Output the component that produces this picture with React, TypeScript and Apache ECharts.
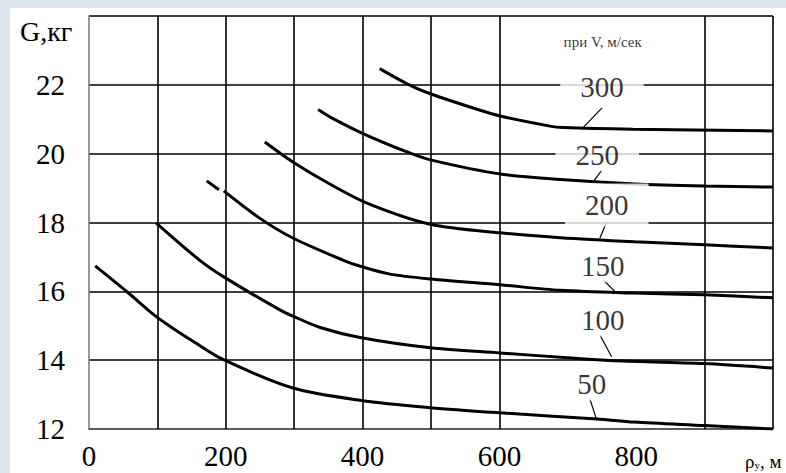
import React, { useEffect, useRef } from "react";
import * as echarts from "echarts";

// ---- data ----
const xLabelValues = [0, 200, 400, 600, 800];
const gridXValues = [100, 200, 300, 400, 500, 600, 900, 1000];
const speedNames = ["50", "100", "150", "200", "250", "300"];

const curve50 = [[9, 16.74], [56, 15.98], [96, 15.3], [123, 14.92], [152, 14.55], [196, 14.02], [298, 13.19], [398, 12.83], [499, 12.62], [601, 12.47], [743, 12.29], [797, 12.2], [900, 12.1], [1000, 12.0]];
const curve100 = [[98, 17.99], [162, 16.9], [197, 16.42], [279, 15.46], [298, 15.28], [338, 14.95], [398, 14.65], [499, 14.36], [601, 14.21], [700, 14.07], [762, 13.99], [900, 13.9], [1000, 13.77]];
const curve150Dash = [[172, 19.21], [190, 18.95]];
const curve150 = [[197, 18.92], [250, 18.12], [298, 17.55], [371, 16.91], [398, 16.72], [440, 16.5], [499, 16.36], [601, 16.19], [689, 16.03], [798, 15.95], [900, 15.9], [1000, 15.81]];
const curve200 = [[257, 20.34], [298, 19.76], [352, 19.12], [408, 18.55], [499, 17.95], [601, 17.7], [689, 17.56], [798, 17.44], [900, 17.35], [1000, 17.26]];
const curve250 = [[335, 21.28], [352, 21.07], [399, 20.6], [465, 20.05], [499, 19.82], [604, 19.4], [689, 19.25], [798, 19.12], [900, 19.06], [1000, 19.03]];
const curve300 = [[425, 22.47], [465, 22.03], [499, 21.74], [572, 21.26], [604, 21.08], [674, 20.8], [693, 20.76], [795, 20.71], [1000, 20.66]];

const labelPositions = [[735, 13.31], [751, 15.17], [751, 16.74], [757, 18.51], [743, 19.97], [750, 21.94]];
const leaderLines = [
  [[742, 12.28], [732, 12.89]],
  [[764, 14.1], [747, 14.73]],
  [[769, 15.99], [752, 16.33]],
  [[747, 17.55], [757, 18.03]],
  [[737, 19.18], [750, 19.53]],
  [[722, 20.75], [750, 21.33]],
];
const legendTitle = "при V, м/сек";
const legendTitlePos = [751, 23.25];
const yAxisName = "G,кг";

const SERIF = "'Liberation Serif', 'DejaVu Serif', serif";

export default function App() {
  const ref = useRef<HTMLDivElement>(null);
  useEffect(() => {
    if (!ref.current) return;
    const chart = echarts.init(ref.current, null, { renderer: "svg" });
    const curveStyle = { color: "#000", width: 3 };
    const curves = [curve50, curve100, curve150, curve200, curve250, curve300];
    const curveSeries: any[] = curves.map((c, i) => ({
      type: "line",
      name: "V" + speedNames[i],
      data: c,
      smooth: 0.3,
      showSymbol: false,
      symbol: "none",
      lineStyle: curveStyle,
      z: 3,
      silent: true,
    }));
    curveSeries.push({
      type: "line",
      name: "V150dash",
      data: curve150Dash,
      showSymbol: false,
      symbol: "none",
      lineStyle: curveStyle,
      z: 3,
      silent: true,
    });
    // vertical grid lines
    curveSeries[0].markLine = {
      silent: true,
      symbol: ["none", "none"],
      label: { show: false },
      lineStyle: { color: "#000", width: 1.6, type: "solid" },
      data: gridXValues.map((x) => ({ xAxis: x })),
      z: 1,
    };

    const labelData: any[] = labelPositions.map((p, i) => {
      const item: any = { value: p, name: speedNames[i] };
      if (speedNames[i] === "200") {
        item.label = { padding: [2, 20, 12, 20] };
      }
      return item;
    });
    labelData.push({
      value: legendTitlePos,
      name: legendTitle,
      label: { fontSize: 15, backgroundColor: "transparent", padding: 0 },
    });

    chart.setOption({
      animation: false,
      grid: { left: 89, right: 13, top: 16, bottom: 44, show: false },
      xAxis: {
        type: "value",
        min: 0,
        max: 1000,
        interval: 100,
        axisLine: { show: true, onZero: false, lineStyle: { color: "#666", width: 1.5 } },
        axisTick: { show: false },
        splitLine: { show: false },
        axisLabel: {
          formatter: (v: number) => (xLabelValues.includes(v) ? String(v) : ""),
          fontSize: 29,
          fontFamily: SERIF,
          color: "#000",
          margin: 12,
        },
      },
      yAxis: {
        type: "value",
        min: 12,
        max: 24,
        interval: 2,
        axisLine: { show: true, onZero: false, lineStyle: { color: "#777", width: 1.5 } },
        axisTick: { show: false },
        splitLine: { show: true, lineStyle: { color: "#000", width: 1.6 } },
        axisLabel: {
          formatter: (v: number) => (v === 24 ? "" : String(v)),
          fontSize: 29,
          fontFamily: SERIF,
          color: "#000",
          margin: 24,
        },
      },
      series: [
        ...curveSeries,
        {
          type: "lines",
          coordinateSystem: "cartesian2d",
          data: leaderLines.map((c) => ({ coords: c })),
          lineStyle: { color: "#000", width: 1.2, opacity: 1, curveness: 0 },
          symbol: ["none", "none"],
          silent: true,
          z: 4,
        },
        {
          type: "scatter",
          data: labelData,
          symbolSize: 1,
          itemStyle: { color: "rgba(0,0,0,0)" },
          silent: true,
          z: 5,
          label: {
            show: true,
            position: "inside",
            formatter: "{b}",
            fontSize: 29,
            fontFamily: SERIF,
            color: "#000",
            backgroundColor: "#fff",
            padding: [2, 20],
          },
        },
      ],
      graphic: [
        {
          type: "text",
          x: 20,
          y: 31,
          style: {
            text: yAxisName,
            fontSize: 28,
            fontFamily: SERIF,
            fill: "#000",
            align: "left",
            verticalAlign: "middle",
          },
        },
        {
          type: "text",
          x: 745,
          y: 461,
          style: {
            text: "{a|ρ}{s|у}{a|, м}",
            fill: "#000",
            align: "left",
            verticalAlign: "middle",
            rich: {
              a: { fontSize: 19, fontFamily: SERIF, fill: "#000" },
              s: { fontSize: 11, fontFamily: SERIF, fill: "#000", verticalAlign: "bottom", padding: [6, 0, 0, 0] },
            },
          },
        },
      ],
    });
    return () => chart.dispose();
  }, []);

  return (
    <div style={{ position: "fixed", left: 0, top: 0, width: 786, height: 473, background: "#dde6ec", overflow: "hidden" }}>
      <div style={{ position: "absolute", left: 10, top: 8, right: 0, bottom: 0, background: "#fff" }} />
      <div ref={ref} style={{ position: "absolute", left: 0, top: 0, width: 786, height: 473 }} />
    </div>
  );
}
